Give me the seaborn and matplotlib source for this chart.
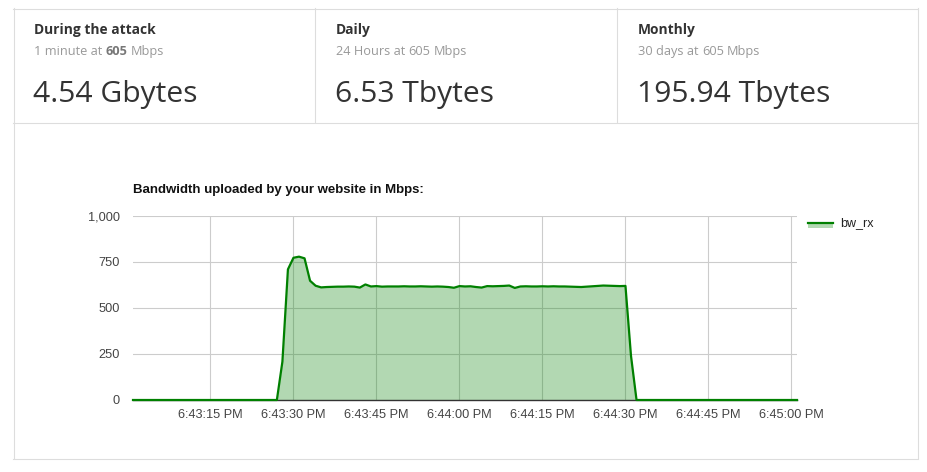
import numpy as np
import pandas as pd
import matplotlib
matplotlib.use("Agg")
import matplotlib.pyplot as plt
import matplotlib.dates as mdates
from matplotlib.ticker import StrMethodFormatter
from matplotlib.patches import Rectangle
from matplotlib.lines import Line2D
import seaborn as sns

# ---------------- data ----------------
card_titles = ["During the attack", "Daily", "Monthly"]
card_periods = ["1 minute at", "24 Hours at", "30 days at"]
card_rates = ["605", "605", "605"]
card_rate_bold = [True, False, False]
card_values = ["4.54 Gbytes", "6.53 Tbytes", "195.94 Tbytes"]

chart_title = "Bandwidth uploaded by your website in Mbps:"
series_name = "bw_rx"
start_time = "2020-01-01 18:43:01"
bw_rx = [
    0, 0, 0, 0, 0, 0, 0, 0, 0, 0,
    0, 0, 0, 0, 0, 0, 0, 0, 0, 0,
    0, 0, 0, 0, 0, 0, 0, 208, 710, 773,
    779, 770, 648, 621, 612, 614, 615, 616, 616, 617,
    616, 611, 628, 617, 619, 616, 617, 617, 617, 618,
    617, 617, 618, 617, 616, 617, 616, 614, 610, 619,
    617, 618, 614, 611, 619, 618, 619, 620, 622, 609,
    617, 618, 617, 617, 618, 617, 618, 617, 617, 616,
    615, 614, 616, 618, 620, 622, 621, 620, 619, 620,
    240, 0, 0, 0, 0, 0, 0, 0, 0, 0,
    0, 0, 0, 0, 0, 0, 0, 0, 0, 0,
    0, 0, 0, 0, 0, 0, 0, 0, 0, 0,
    0,
]
y_ticks = [0, 250, 500, 750, 1000]

# ---------------- figure ----------------
W, H = 927, 472
fig = plt.figure(figsize=(W / 100, H / 100), dpi=100)
fig.patch.set_facecolor("white")

def fx(x):
    return x / W

def fy(y):
    return 1 - y / H

HEAD_FONT = ["Open Sans", "DejaVu Sans"]
CHART_FONT = ["Liberation Sans", "DejaVu Sans"]
BORDER = "#dddddd"

def hline(x0, x1, y):
    fig.add_artist(Line2D([fx(x0), fx(x1)], [fy(y), fy(y)], transform=fig.transFigure,
                          color=BORDER, lw=0.8))

def vline(x, y0, y1):
    fig.add_artist(Line2D([fx(x), fx(x)], [fy(y0), fy(y1)], transform=fig.transFigure,
                          color=BORDER, lw=0.8))

# panel borders
hline(13, 918, 8.5)
hline(13, 918, 122.5)
hline(13, 918, 458.5)
vline(13.5, 8, 458)
vline(917.5, 8, 458)
vline(314.5, 8, 122)
vline(616.5, 8, 122)

renderer = fig.canvas.get_renderer()

def text_width(t):
    return t.get_window_extent(renderer=renderer).width

SUB_FS = 9.2
SPACE = SUB_FS * 100 / 72 * 0.26

card_x = [34, 336, 638]
for i in range(3):
    x0 = card_x[i]
    fig.text(fx(x0), fy(34), card_titles[i], family=HEAD_FONT, fontsize=9.9,
             fontweight="bold", color="#333333", va="baseline", ha="left")
    # subtitle with optional bold rate
    t1 = fig.text(fx(x0), fy(55), card_periods[i], family=HEAD_FONT, fontsize=SUB_FS,
                  color="#999999", va="baseline", ha="left")
    x1 = x0 + text_width(t1) + SPACE
    t2 = fig.text(fx(x1), fy(55), card_rates[i], family=HEAD_FONT, fontsize=SUB_FS,
                  fontweight="bold" if card_rate_bold[i] else "normal",
                  color="#777777" if card_rate_bold[i] else "#999999",
                  va="baseline", ha="left")
    x2 = x1 + text_width(t2) + SPACE
    fig.text(fx(x2), fy(55), "Mbps", family=HEAD_FONT, fontsize=SUB_FS,
             color="#999999", va="baseline", ha="left")
    fig.text(fx(x0 - 1), fy(102), card_values[i], family=HEAD_FONT, fontsize=21.6,
             color="#333333", va="baseline", ha="left")

# chart title
fig.text(fx(133), fy(192.5), chart_title, family=CHART_FONT, fontsize=9.5,
         fontweight="bold", color="#111111", va="baseline", ha="left")

# ---------------- chart ----------------
times = pd.date_range(start_time, periods=len(bw_rx), freq="s")
df = pd.DataFrame({"time": times, series_name: bw_rx})

ax = fig.add_axes([fx(133), fy(400), (797 - 133) / W, (400 - 216) / H])
ax.set_facecolor("white")
ax.fill_between(df["time"], df[series_name], 0, color="#008000", alpha=0.3, lw=0, zorder=2)
sns.lineplot(data=df, x="time", y=series_name, color="#008000", lw=1.6, ax=ax,
             zorder=3, clip_on=False)

ax.set_xlim(times[0], times[-1])
ax.set_ylim(0, 1000)
ax.set_yticks(y_ticks)
ax.yaxis.set_major_formatter(StrMethodFormatter("{x:,.0f}"))
ax.xaxis.set_major_locator(mdates.SecondLocator(bysecond=[0, 15, 30, 45]))
ax.xaxis.set_major_formatter(mdates.DateFormatter("%-I:%M:%S %p"))
ax.set_xlabel("")
ax.set_ylabel("")
ax.grid(True, color="#cccccc", lw=0.8, zorder=0)
ax.set_axisbelow(True)
for s in ["top", "right", "left"]:
    ax.spines[s].set_visible(False)
ax.spines["bottom"].set_color("#333333")
ax.spines["bottom"].set_linewidth(1.0)
ax.tick_params(axis="both", length=0, labelsize=9.2, labelcolor="#444444")
ax.tick_params(axis="y", pad=9.5)
ax.tick_params(axis="x", pad=6.3)
for lab in ax.get_xticklabels() + ax.get_yticklabels():
    lab.set_family(CHART_FONT)
if ax.get_legend() is not None:
    ax.get_legend().remove()

# legend (manual, matching the reference)
fig.add_artist(Rectangle((fx(808), fy(228)), (833 - 808) / W, 6 / H,
                         transform=fig.transFigure, facecolor="#b2d9b2", edgecolor="none"))
fig.add_artist(Line2D([fx(808), fx(833)], [fy(222.5), fy(222.5)], transform=fig.transFigure,
                      color="#008000", lw=1.6))
fig.text(fx(840), fy(223), series_name, family=CHART_FONT, fontsize=9, color="#222222",
         va="center", ha="left")

fig.savefig("out.png", dpi=100, facecolor="white")
